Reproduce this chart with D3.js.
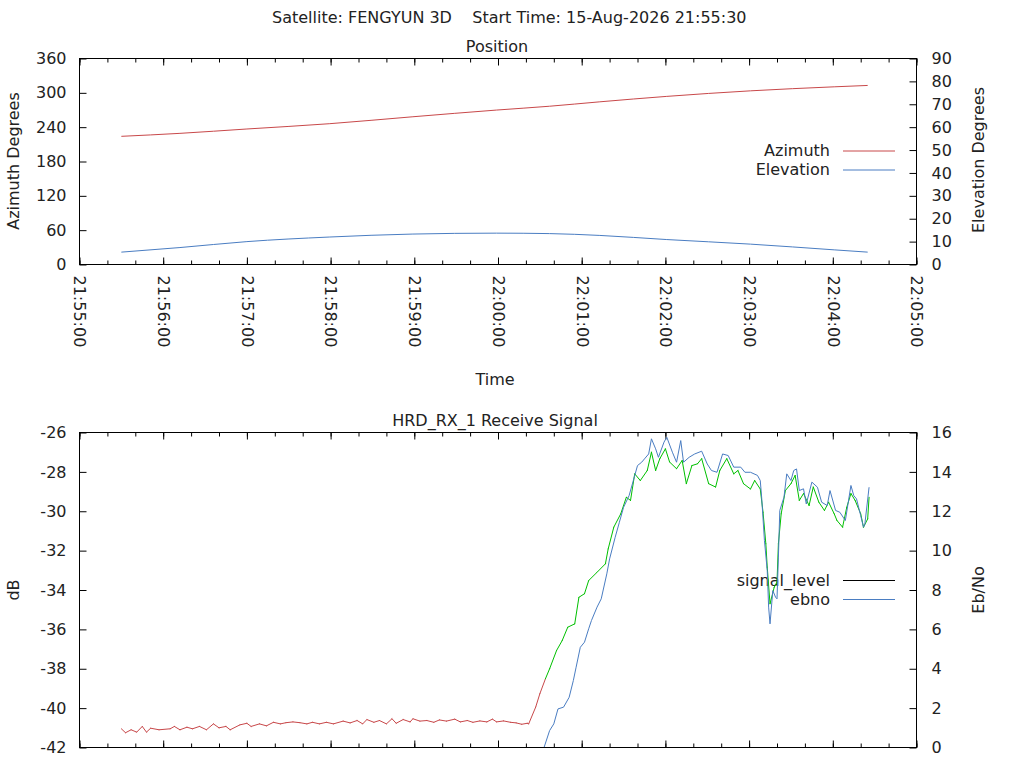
<!DOCTYPE html>
<html>
<head>
<meta charset="utf-8">
<script src="https://cdn.jsdelivr.net/npm/d3@7"></script>
<style>
  body { margin: 0; background: #fff; }
  svg { display: block; font-family: "DejaVu Sans", sans-serif; }
  text { fill: #222; }
</style>
</head>
<body>
<svg id="chart" width="1024" height="768"></svg>
<script>
// pass start, everything below is seconds after it
var startTime = new Date(2026, 7, 15, 21, 55, 30);

// Position plot
var posSecs   = [0, 42, 90, 149, 209, 269, 307, 343, 391, 451, 511, 535];
var azimuth   = [224.0, 229.2, 236.8, 246.0, 258.2, 269.9, 276.6, 284.3, 293.8, 303.5, 310.5, 312.9];
var elevation = [5.4, 7.4, 10.0, 12.0, 13.3, 13.7, 13.5, 12.7, 10.9, 8.9, 6.4, 5.4];

// Receive signal plot
var sigSecs = [0,3,7,11,15,18,21,27,35,38,
  42,47,51,56,61,66,70,75,78,85,
  90,93,99,104,109,114,118,123,128,133,
  137,142,147,152,159,164,169,173,176,181,
  185,190,194,197,202,207,209,214,219,224,
  228,233,239,243,248,252,257,262,266,269,
  274,279,283,287,291,292,297,300,304,307,
  312,316,320,325,328,332,335,341,347,349,
  353,358,362,365,368,372,377,380,383,386,
  390,393,398,402,405,409,413,416,421,426,
  429,434,439,442,446,451,454,458,460,462,
  463,465,468,470,471,473,476,480,483,486,
  489,493,496,500,504,507,511,513,517,520,
  523,526,530,532,535,536];
var signalLevel = [-41.05,-41.25,-41.1,-41.22,-40.93,-41.22,-41.02,-41.1,-41.05,-40.93,
  -41.1,-40.97,-41.05,-40.93,-41.1,-40.8,-41.0,-40.93,-41.1,-40.85,
  -40.77,-40.93,-40.8,-40.9,-40.72,-40.8,-40.74,-40.7,-40.74,-40.8,
  -40.72,-40.8,-40.72,-40.8,-40.66,-40.75,-40.63,-40.8,-40.58,-40.72,
  -40.63,-40.8,-40.54,-40.77,-40.58,-40.7,-40.54,-40.66,-40.63,-40.72,
  -40.6,-40.66,-40.56,-40.7,-40.63,-40.72,-40.65,-40.7,-40.56,-40.7,
  -40.65,-40.72,-40.75,-40.82,-40.77,-40.8,-39.95,-39.27,-38.51,-38.0,
  -37.07,-36.57,-35.89,-35.72,-34.37,-34.19,-33.52,-33.1,-32.67,-31.91,
  -30.81,-30.13,-29.29,-29.45,-28.1,-28.44,-27.93,-27.0,-27.93,-27.33,
  -26.83,-27.5,-27.84,-27.42,-28.6,-27.68,-27.59,-27.33,-28.6,-28.77,
  -27.93,-27.33,-28.1,-27.93,-28.6,-28.87,-28.44,-28.87,-30.05,-31.65,
  -32.84,-34.7,-33.86,-33.6,-31.65,-30.13,-28.95,-28.6,-28.18,-29.45,
  -29.1,-29.71,-28.77,-29.54,-29.96,-29.54,-30.13,-30.47,-30.81,-29.8,
  -29.1,-29.45,-30.13,-30.81,-30.39,-29.29];
var ebnoSecs = [303,307,310,313,317,321,324,326,329,332,
  335,337,341,344,348,350,354,357,360,364,
  367,370,373,375,378,380,383,385,389,391,
  395,398,401,403,407,411,416,420,423,427,
  431,435,439,444,447,451,456,458,459,461,
  463,464,465,467,469,470,471,472,475,477,
  480,482,484,486,489,491,495,499,502,506,
  508,512,515,519,523,525,527,530,532,533,
  536];
var ebno = [0.0,0.86,1.2,1.96,2.05,2.55,3.4,4.08,5.09,5.35,
  6.03,6.45,7.13,7.55,8.82,9.58,10.68,11.44,12.2,12.8,
  13.56,14.32,14.49,14.66,14.91,15.68,15.17,14.74,15.51,15.76,
  15.0,14.49,15.59,14.49,14.74,14.91,15.05,14.4,14.07,13.98,
  14.91,14.83,14.24,14.24,13.98,13.98,13.82,13.56,12.71,10.51,
  8.99,7.13,6.28,7.97,7.63,7.55,9.67,12.04,12.71,13.9,
  13.56,14.07,14.15,13.05,13.14,12.37,13.48,13.22,12.46,12.29,
  13.05,12.04,11.95,11.53,13.31,12.8,12.63,11.78,11.19,11.36,
  13.22];

var azTicks = [0, 60, 120, 180, 240, 300, 360];
var elTicks = [0, 10, 20, 30, 40, 50, 60, 70, 80, 90];
var dbTicks = [-42, -40, -38, -36, -34, -32, -30, -28, -26];
var ebTicks = [0, 2, 4, 6, 8, 10, 12, 14, 16];

var RED = "#c8484a", BLUE = "#4a7dc2", GREEN = "#00c000";
var FS = 16;

var svg = d3.select("#chart");
var toDate = function(s){ return new Date(startTime.getTime() + s * 1000); };
var fmt = d3.timeFormat("%H:%M:%S");
var plain = function(d){ return String(d); };  // plain hyphen minus like gnuplot

var x = d3.scaleTime()
  .domain([new Date(2026, 7, 15, 21, 55, 0), new Date(2026, 7, 15, 22, 5, 0)])
  .range([79.5, 916.5]);

function frame(top, bottom, labels){
  var g = svg.append("g");
  // x ticks bottom + mirrored top, minor every 20 s
  var minor = d3.timeSecond.every(20), major = d3.timeMinute.every(1);
  [[d3.axisBottom, bottom, -1], [d3.axisTop, top, 1]].forEach(function(a){
    g.append("g").attr("transform", "translate(0," + a[1] + ")")
      .call(a[0](x).ticks(minor).tickSize(-4).tickFormat(""))
      .call(function(s){ s.select(".domain").remove(); });
    var ax = g.append("g").attr("transform", "translate(0," + a[1] + ")")
      .call(a[0](x).ticks(major).tickSize(-7).tickFormat(labels && a[2] < 0 ? fmt : ""));
    ax.select(".domain").remove();
    ax.selectAll("text")
      .attr("transform", "rotate(90)")
      .attr("x", 11).attr("y", 0).attr("dy", "0.35em")
      .attr("text-anchor", "start")
      .style("font-size", FS + "px").style("font-family", "DejaVu Sans");
  });
  g.selectAll("line").attr("stroke", "#000");
  return g;
}

function yAxes(g, yl, yr, lt, rt){
  var l = g.append("g").attr("transform", "translate(79.5,0)")
    .call(d3.axisLeft(yl).tickValues(lt).tickFormat(plain).tickSize(-7).tickPadding(13));
  var r = g.append("g").attr("transform", "translate(916.5,0)")
    .call(d3.axisRight(yr).tickValues(rt).tickFormat(plain).tickSize(-7).tickPadding(15));
  [l, r].forEach(function(a){
    a.select(".domain").remove();
    a.selectAll("line").attr("stroke", "#000");
    a.selectAll("text").style("font-size", FS + "px").style("font-family", "DejaVu Sans");
  });
}

function border(top, bottom){
  svg.append("rect").attr("x", 79.5).attr("y", top)
    .attr("width", 837).attr("height", bottom - top)
    .attr("fill", "none").attr("stroke", "#000").attr("stroke-width", 1);
}

function legend(items, y0){
  items.forEach(function(it, i){
    var y = y0 + i * 19;
    svg.append("text").attr("x", 830).attr("y", y).attr("dy", "0.35em")
      .attr("text-anchor", "end").style("font-size", FS + "px").text(it[0]);
    svg.append("line").attr("x1", 843).attr("x2", 895).attr("y1", y + 0.5).attr("y2", y + 0.5)
      .attr("stroke", it[1]).attr("stroke-width", 1);
  });
}

function label(txt, cx, cy, rot){
  svg.append("text")
    .attr("transform", "translate(" + cx + "," + cy + ")" + (rot ? " rotate(" + rot + ")" : ""))
    .attr("text-anchor", "middle").attr("dy", "0.35em")
    .style("font-size", FS + "px").text(txt);
}

// titles
svg.append("text").attr("x", 272).attr("y", 23)
  .attr("xml:space", "preserve").style("white-space", "pre")
  .style("font-size", FS + "px")
  .text("Satellite: FENGYUN 3D    Start Time: 15-Aug-2026 21:55:30");

// ---- Position ----
var yAz = d3.scaleLinear().domain([0, 360]).range([264.5, 58.5]);
var yEl = d3.scaleLinear().domain([0, 90]).range([264.5, 58.5]);
label("Position", 497, 46);
var g1 = frame(58.5, 264.5, true);
yAxes(g1, yAz, yEl, azTicks, elTicks);
label("Azimuth Degrees", 13, 161, -90);
label("Elevation Degrees", 978, 160, -90);
label("Time", 495, 379);
legend([["Azimuth", RED], ["Elevation", BLUE]], 150.5);

var pos = posSecs.map(function(s, i){ return {t: toDate(s), az: azimuth[i], el: elevation[i]}; });
svg.append("path").datum(pos)
  .attr("fill", "none").attr("stroke", RED).attr("stroke-width", 1)
  .attr("d", d3.line().curve(d3.curveMonotoneX).x(function(d){ return x(d.t); }).y(function(d){ return yAz(d.az); }));
svg.append("path").datum(pos)
  .attr("fill", "none").attr("stroke", BLUE).attr("stroke-width", 1)
  .attr("d", d3.line().curve(d3.curveMonotoneX).x(function(d){ return x(d.t); }).y(function(d){ return yEl(d.el); }));
border(58.5, 264.5);

// ---- Receive signal ----
var yDb = d3.scaleLinear().domain([-42, -26]).range([747.5, 432.5]);
var yEb = d3.scaleLinear().domain([0, 16]).range([747.5, 432.5]);
label("HRD_RX_1 Receive Signal", 495, 420);
var g2 = frame(432.5, 747.5, false);
yAxes(g2, yDb, yEb, dbTicks, ebTicks);
label("dB", 13, 590, -90);
label("Eb/No", 978, 590, -90);
legend([["signal_level", "#000"], ["ebno", BLUE]], 580);

var sig = sigSecs.map(function(s, i){ return {t: toDate(s), v: signalLevel[i]}; });
// signal_level is red until carrier lock, green after
svg.append("g").selectAll("line").data(d3.pairs(sig)).enter().append("line")
  .attr("x1", function(d){ return x(d[0].t); }).attr("y1", function(d){ return yDb(d[0].v); })
  .attr("x2", function(d){ return x(d[1].t); }).attr("y2", function(d){ return yDb(d[1].v); })
  .attr("stroke", function(d){ return d[0].v < -38.6 ? RED : GREEN; })
  .attr("stroke-width", 1).attr("stroke-linecap", "round");

var eb = ebnoSecs.map(function(s, i){ return {t: toDate(s), v: ebno[i]}; });
svg.append("path").datum(eb)
  .attr("fill", "none").attr("stroke", BLUE).attr("stroke-width", 1)
  .attr("d", d3.line().x(function(d){ return x(d.t); }).y(function(d){ return yEb(d.v); }));
border(432.5, 747.5);
</script>
</body>
</html>
